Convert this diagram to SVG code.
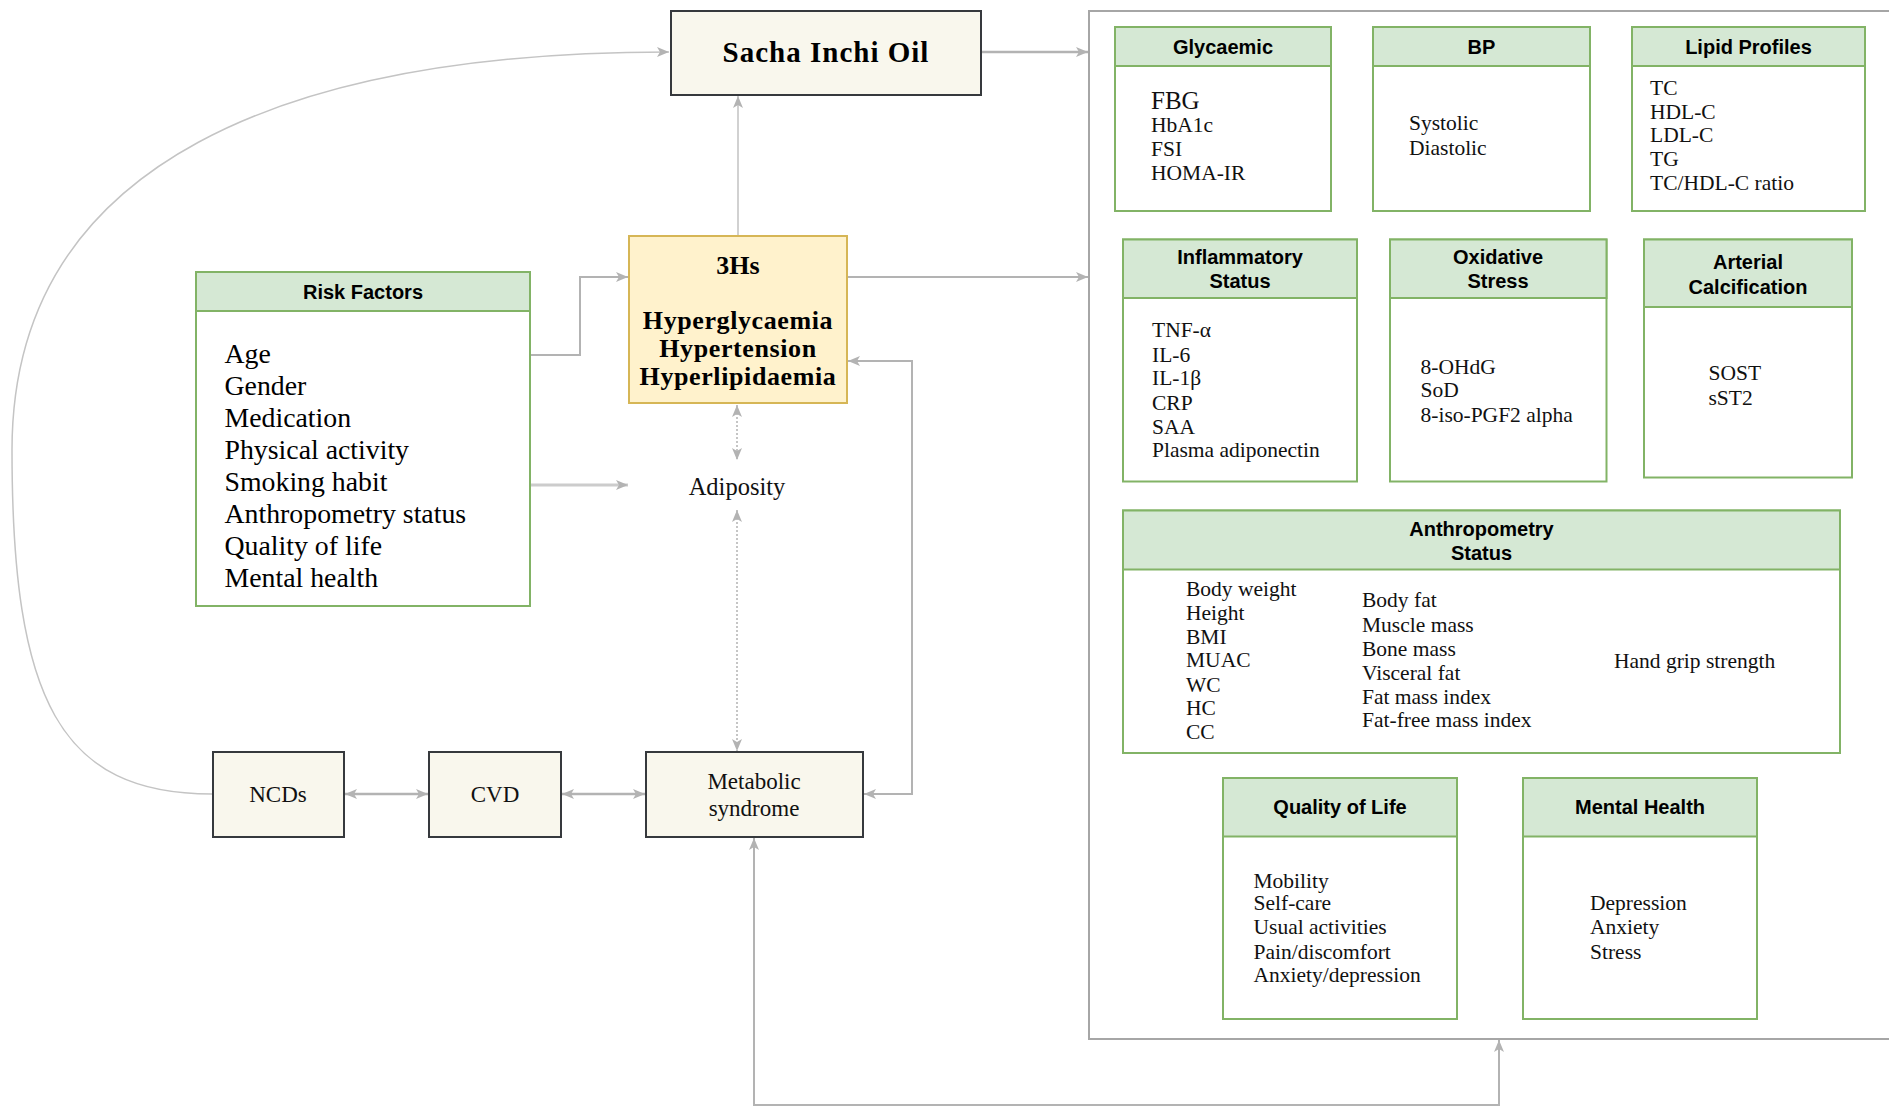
<svg xmlns="http://www.w3.org/2000/svg" width="1889" height="1107" viewBox="0 0 1889 1107">
<style>
.box{fill:#f9f7ed;stroke:#36393d;stroke-width:2}
.card{fill:#ffffff;stroke:#82b366;stroke-width:2}
.hdr{fill:#d5e8d4;stroke:#82b366;stroke-width:2}
.hs{fill:#fff2cc;stroke:#d6b656;stroke-width:2}
.h{font-family:"Liberation Sans",Arial,sans-serif;font-weight:bold;font-size:20px;text-anchor:middle;dominant-baseline:central;fill:#000}
.t{font-family:"Liberation Serif","Times New Roman",serif;font-size:21.5px;dominant-baseline:central;fill:#111}
.rf{font-family:"Liberation Serif","Times New Roman",serif;font-size:27.8px;dominant-baseline:central;fill:#000}
.n{font-family:"Liberation Serif","Times New Roman",serif;font-size:23px;text-anchor:middle;dominant-baseline:central;fill:#111}
.b{font-family:"Liberation Serif","Times New Roman",serif;font-weight:bold;text-anchor:middle;dominant-baseline:central;fill:#000}
.c{fill:none;stroke:#b3b3b3;stroke-width:2}
.d{fill:none;stroke:#b3b3b3;stroke-width:1.5;stroke-dasharray:2 2}
</style>
<defs>
<marker id="ar" viewBox="0 0 12 10" refX="12" refY="5" markerWidth="12" markerHeight="10" markerUnits="userSpaceOnUse" orient="auto-start-reverse">
<path d="M0,0 L12,5 L0,10 L3,5 Z" fill="#b3b3b3"/>
</marker>
</defs>

<g id="container">
<rect x="1089" y="11" width="900" height="1028" fill="none" stroke="#a6a6a6" stroke-width="2"/>
</g>

<g id="connectors">
<path class="c" d="M 212 794 C 60 794, 12 700, 12 450 C 12 160, 290 52, 669 52" style="stroke:#c4c4c4;stroke-width:1.5" marker-end="url(#ar)"/>
<path class="c" d="M 982 52 L 1088 52" style="stroke-width:2.5" marker-end="url(#ar)"/>
<path class="c" d="M 738 235 L 738 96" style="stroke-width:1.2" marker-end="url(#ar)"/>
<path class="c" d="M 530 355 L 580 355 L 580 277 L 628 277" marker-end="url(#ar)"/>
<path class="c" d="M 848 277 L 1088 277" marker-end="url(#ar)"/>
<path class="c" d="M 530 485 L 628 485" style="stroke:#cccccc;stroke-width:3" marker-end="url(#ar)"/>
<path class="d" d="M 737 405 L 737 460" marker-start="url(#ar)" marker-end="url(#ar)"/>
<path class="d" d="M 737 510 L 737 751" marker-start="url(#ar)" marker-end="url(#ar)"/>
<path class="c" d="M 345 794 L 428 794" style="stroke-width:2.5" marker-start="url(#ar)" marker-end="url(#ar)"/>
<path class="c" d="M 562 794 L 645 794" style="stroke-width:2.5" marker-start="url(#ar)" marker-end="url(#ar)"/>
<path class="c" d="M 864 794 L 912 794 L 912 361 L 848 361" marker-start="url(#ar)" marker-end="url(#ar)"/>
<path class="c" d="M 754 838 L 754 1105 L 1499 1105 L 1499 1040" marker-start="url(#ar)" marker-end="url(#ar)"/>
</g>

<g id="sacha">
<rect class="box" x="671" y="11" width="310" height="84"/>
<text class="b" x="826" y="52" style="font-size:29px" letter-spacing="1">Sacha Inchi Oil</text>
</g>

<g id="hs3">
<rect class="hs" x="629" y="236" width="218" height="167"/>
<text class="b" x="738" y="265" style="font-size:26px">3Hs</text>
<text class="b" x="738" y="320" style="font-size:26px" letter-spacing="0.6">Hyperglycaemia</text>
<text class="b" x="738" y="348" style="font-size:26px" letter-spacing="0.6">Hypertension</text>
<text class="b" x="738" y="376" style="font-size:26px" letter-spacing="0.6">Hyperlipidaemia</text>
</g>

<g id="risk">
<rect class="card" x="196" y="272" width="334" height="334"/>
<rect class="hdr" x="196" y="272" width="334" height="39"/>
<text class="h" x="363" y="292">Risk Factors</text>
<text class="rf" x="224.5" y="353">Age</text>
<text class="rf" x="224.5" y="385">Gender</text>
<text class="rf" x="224.5" y="417">Medication</text>
<text class="rf" x="224.5" y="449">Physical activity</text>
<text class="rf" x="224.5" y="481">Smoking habit</text>
<text class="rf" x="224.5" y="513">Anthropometry status</text>
<text class="rf" x="224.5" y="545">Quality of life</text>
<text class="rf" x="224.5" y="577">Mental health</text>
</g>

<g id="adiposity">
<text class="n" x="737" y="486" style="font-size:24.5px">Adiposity</text>
</g>

<g id="ncds">
<rect class="box" x="213" y="752" width="131" height="85"/>
<text class="n" x="278" y="794">NCDs</text>
</g>
<g id="cvd">
<rect class="box" x="429" y="752" width="132" height="85"/>
<text class="n" x="495" y="794">CVD</text>
</g>
<g id="metabolic">
<rect class="box" x="646" y="752" width="217" height="85"/>
<text class="n" x="754" y="781">Metabolic</text>
<text class="n" x="754" y="808">syndrome</text>
</g>

<g id="glycaemic">
<rect class="card" x="1115" y="27" width="216" height="184"/>
<rect class="hdr" x="1115" y="27" width="216" height="39"/>
<text class="h" x="1223" y="46.5">Glycaemic</text>
<text class="t" x="1151" y="100" style="font-size:25px">FBG</text>
<text class="t" x="1151" y="125">HbA1c</text>
<text class="t" x="1151" y="149">FSI</text>
<text class="t" x="1151" y="173">HOMA-IR</text>
</g>

<g id="bp">
<rect class="card" x="1373" y="27" width="217" height="184"/>
<rect class="hdr" x="1373" y="27" width="217" height="39"/>
<text class="h" x="1481.5" y="46.5">BP</text>
<text class="t" x="1409" y="123">Systolic</text>
<text class="t" x="1409" y="148">Diastolic</text>
</g>

<g id="lipid">
<rect class="card" x="1632" y="27" width="233" height="184"/>
<rect class="hdr" x="1632" y="27" width="233" height="39"/>
<text class="h" x="1748.5" y="46.5">Lipid Profiles</text>
<text class="t" x="1650" y="88">TC</text>
<text class="t" x="1650" y="112">HDL-C</text>
<text class="t" x="1650" y="135">LDL-C</text>
<text class="t" x="1650" y="159">TG</text>
<text class="t" x="1650" y="183">TC/HDL-C ratio</text>
</g>

<g id="inflammatory">
<rect class="card" x="1123" y="239.5" width="234" height="242"/>
<rect class="hdr" x="1123" y="239.5" width="234" height="58.5"/>
<text class="h" x="1240" y="256.5">Inflammatory</text>
<text class="h" x="1240" y="281">Status</text>
<text class="t" x="1152" y="330">TNF-α</text>
<text class="t" x="1152" y="355">IL-6</text>
<text class="t" x="1152" y="378">IL-1β</text>
<text class="t" x="1152" y="403">CRP</text>
<text class="t" x="1152" y="427">SAA</text>
<text class="t" x="1152" y="450">Plasma adiponectin</text>
</g>

<g id="oxidative">
<rect class="card" x="1390" y="239.5" width="216.5" height="242"/>
<rect class="hdr" x="1390" y="239.5" width="216.5" height="58.5"/>
<text class="h" x="1498" y="256.5">Oxidative</text>
<text class="h" x="1498" y="281">Stress</text>
<text class="t" x="1420.5" y="367">8-OHdG</text>
<text class="t" x="1420.5" y="390">SoD</text>
<text class="t" x="1420.5" y="415">8-iso-PGF2 alpha</text>
</g>

<g id="arterial">
<rect class="card" x="1644" y="239.5" width="208" height="238"/>
<rect class="hdr" x="1644" y="239.5" width="208" height="67.5"/>
<text class="h" x="1748" y="261.5">Arterial</text>
<text class="h" x="1748" y="286.5">Calcification</text>
<text class="t" x="1708.5" y="373">SOST</text>
<text class="t" x="1708.5" y="398">sST2</text>
</g>

<g id="anthropometry">
<rect class="card" x="1123" y="510.5" width="717" height="242.5"/>
<rect class="hdr" x="1123" y="510.5" width="717" height="59"/>
<text class="h" x="1481.5" y="528.5">Anthropometry</text>
<text class="h" x="1481.5" y="553">Status</text>
<text class="t" x="1186" y="588.5">Body weight</text>
<text class="t" x="1186" y="613">Height</text>
<text class="t" x="1186" y="636.5">BMI</text>
<text class="t" x="1186" y="660">MUAC</text>
<text class="t" x="1186" y="684.5">WC</text>
<text class="t" x="1186" y="708">HC</text>
<text class="t" x="1186" y="731.5">CC</text>
<text class="t" x="1362" y="600">Body fat</text>
<text class="t" x="1362" y="625">Muscle mass</text>
<text class="t" x="1362" y="648.5">Bone mass</text>
<text class="t" x="1362" y="673">Visceral fat</text>
<text class="t" x="1362" y="696.5">Fat mass index</text>
<text class="t" x="1362" y="720">Fat-free mass index</text>
<text class="t" x="1614" y="660.5">Hand grip strength</text>
</g>

<g id="qol">
<rect class="card" x="1223" y="778" width="234" height="241"/>
<rect class="hdr" x="1223" y="778" width="234" height="58.5"/>
<text class="h" x="1340" y="807">Quality of Life</text>
<text class="t" x="1253.5" y="880.5">Mobility</text>
<text class="t" x="1253.5" y="903">Self-care</text>
<text class="t" x="1253.5" y="927">Usual activities</text>
<text class="t" x="1253.5" y="951.5">Pain/discomfort</text>
<text class="t" x="1253.5" y="975">Anxiety/depression</text>
</g>

<g id="mental">
<rect class="card" x="1523" y="778" width="234" height="241"/>
<rect class="hdr" x="1523" y="778" width="234" height="58.5"/>
<text class="h" x="1640" y="807">Mental Health</text>
<text class="t" x="1590" y="903">Depression</text>
<text class="t" x="1590" y="927">Anxiety</text>
<text class="t" x="1590" y="951.5">Stress</text>
</g>
</svg>
